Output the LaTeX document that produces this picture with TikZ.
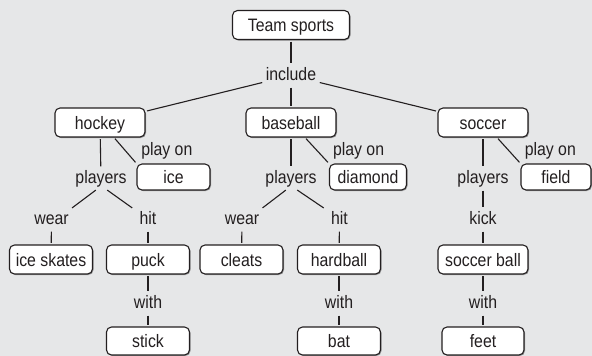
\documentclass[tikz,border=0pt]{standalone}
\usepackage{fontspec}
\setmainfont{Liberation Sans}[FakeStretch=0.88]
\usepackage{xcolor}
\usetikzlibrary{shadows}

\definecolor{paper}{HTML}{E6E7E8}
\definecolor{ink}{HTML}{231F20}

\begin{document}
\begin{tikzpicture}[x=1pt, y=-1pt, font=\fontsize{18}{21}\selectfont, text=ink,
    box/.style={draw=ink, fill=white, line width=1.1pt, rounded corners=5pt,
        minimum width=83pt, minimum height=29pt, inner sep=1pt,
        text height=13pt, text depth=0pt,
        drop shadow={shadow xshift=1pt, shadow yshift=-1pt, fill=black, opacity=0.35}},
    small/.style={box, minimum height=26pt},
    word/.style={anchor=base, inner sep=2pt, text height=13pt, text depth=4pt},
    link/.style={draw=ink, line width=1.1pt, shorten <=1.5pt, shorten >=1.5pt},
    playon/.style={anchor=base west, inner sep=2pt, text height=13pt, text depth=4pt,
        xshift=13.5pt, yshift=-4.5pt}]

    \fill[paper] (0,0) rectangle (592,356);
    \useasboundingbox (0,0) rectangle (592,356);

    % top of the map
    \node[box, minimum width=117pt] (sports) at (291,25) {Team sports};
    \node[word] (include) at (291,80) {include};
    \node[box, minimum width=90pt] (hockey) at (100,122.5) {hockey};
    \node[box, minimum width=90pt] (baseball) at (291,122.5) {baseball};
    \node[box, minimum width=90pt] (soccer) at (483,122.5) {soccer};

    % hockey
    \node[word] (players1) at (101,183) {players};
    \node[small, minimum width=73pt] (ice) at (173.5,177) {ice};
    \node[word] (wear1) at (51.5,224) {wear};
    \node[word] (hit1) at (148,224) {hit};
    \node[box] (skates) at (51,259.5) {ice skates};
    \node[box] (puck) at (148,259.5) {puck};
    \node[word] (with1) at (148,308) {with};
    \node[box, minimum height=28pt] (stick) at (148,341) {stick};

    % baseball
    \node[word] (players2) at (291,183) {players};
    \node[small, minimum width=77pt] (diamond) at (368,177) {diamond};
    \node[word] (wear2) at (242,224) {wear};
    \node[word] (hit2) at (339.5,224) {hit};
    \node[box] (cleats) at (241.5,259.5) {cleats};
    \node[box] (hardball) at (339,259.5) {hardball};
    \node[word] (with2) at (339,308) {with};
    \node[box, minimum height=28pt] (bat) at (339,341) {bat};

    % soccer
    \node[word] (players3) at (483,183) {players};
    \node[small, minimum width=70pt] (field) at (556,177) {field};
    \node[word] (kick) at (483,224) {kick};
    \node[box, minimum width=90pt] (ball) at (483,259.5) {soccer ball};
    \node[word] (with3) at (483,308) {with};
    \node[box, minimum height=28pt, minimum width=82pt] (feet) at (483,341) {feet};

    \path[link]
    (sports) edge (include)
    (include) edge (hockey)
    (include) edge (baseball)
    (include) edge (soccer)

    (hockey) edge (players1)
    ([xshift=14pt]hockey.south) edge node[playon] {play on} (ice.north west)
    ([xshift=-4pt]players1.south) edge (wear1.north east)
    ([xshift=5pt]players1.south) edge ([xshift=-4pt]hit1.north west)
    (wear1) edge (skates)
    (hit1) edge (puck)
    (puck) edge (with1)
    (with1) edge (stick)

    (baseball) edge (players2)
    ([xshift=14pt]baseball.south) edge node[playon] {play on} (diamond.north west)
    ([xshift=-4pt]players2.south) edge (wear2.north east)
    ([xshift=5pt]players2.south) edge ([xshift=-4pt]hit2.north west)
    (wear2) edge (cleats)
    (hit2) edge (hardball)
    (hardball) edge (with2)
    (with2) edge (bat)

    (soccer) edge (players3)
    ([xshift=14pt]soccer.south) edge node[playon] {play on} (field.north west)
    (players3) edge (kick)
    (kick) edge (ball)
    (ball) edge (with3)
    (with3) edge (feet);
\end{tikzpicture}
\end{document}
